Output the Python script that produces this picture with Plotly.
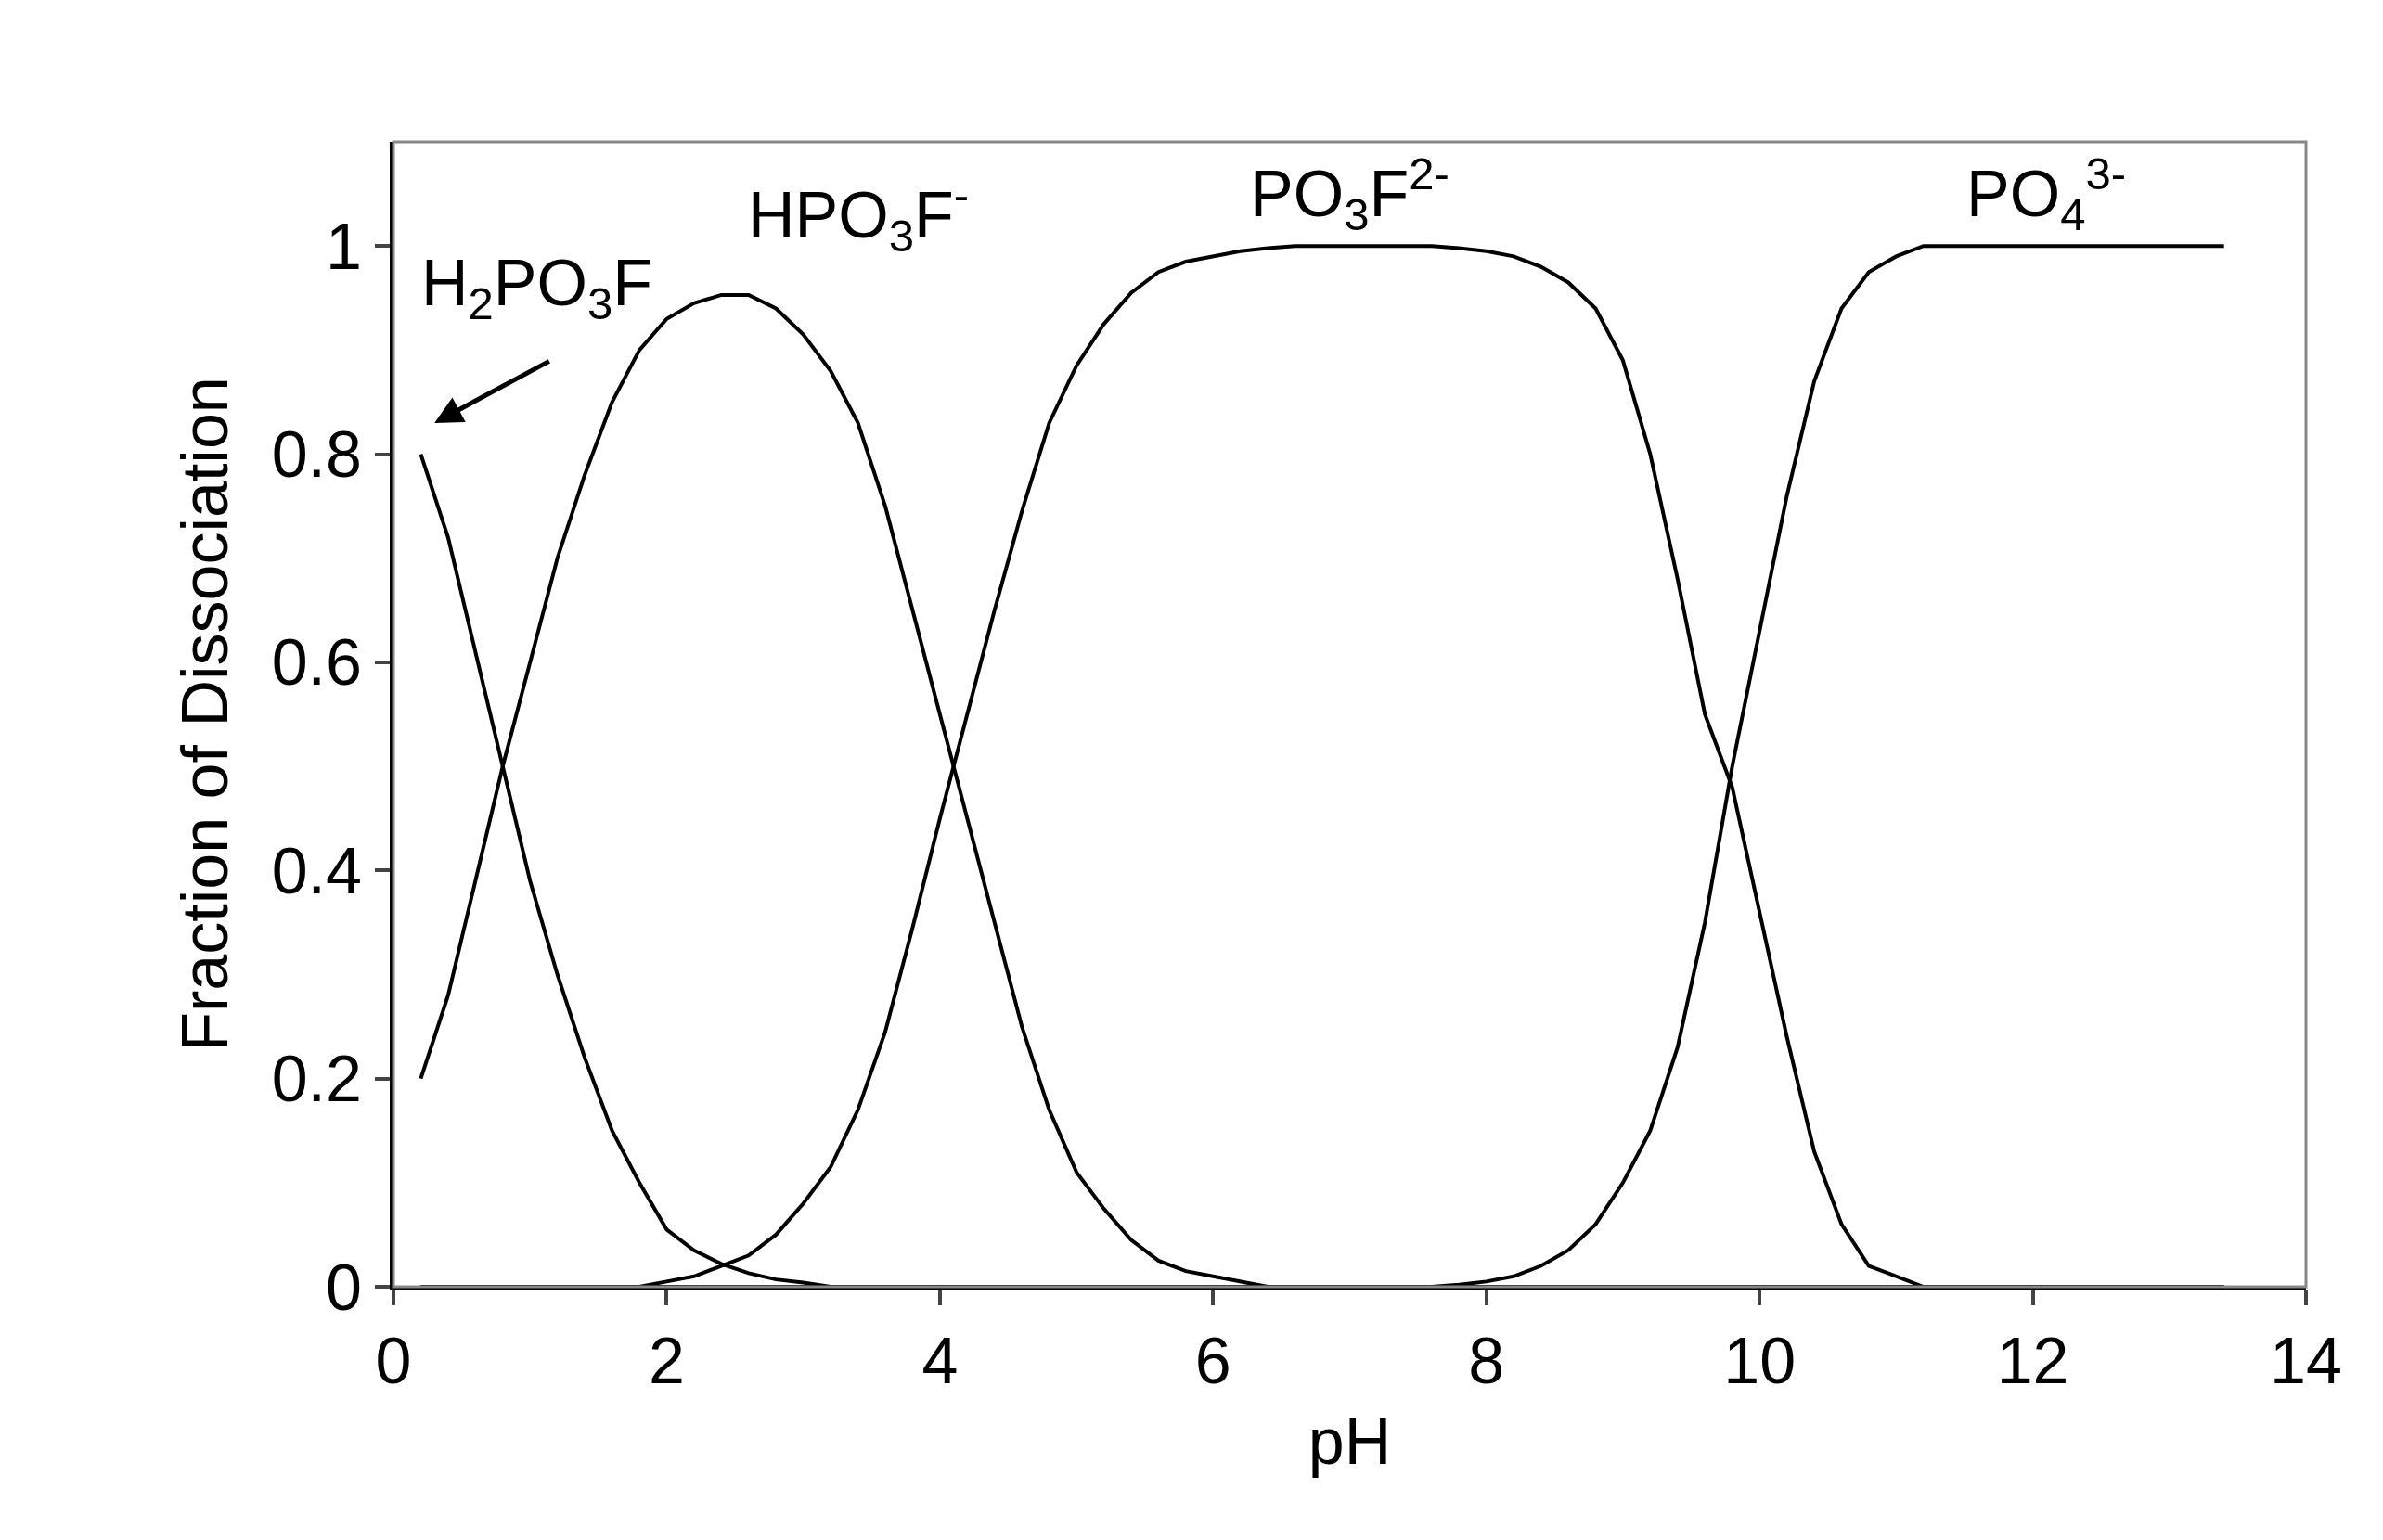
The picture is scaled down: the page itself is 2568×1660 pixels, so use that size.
import plotly.graph_objects as go

ph = [round(0.2*i,1) for i in range(1,68)]  # 0.2 .. 13.4
def fill(d):
    return [d.get(p, 0.0) for p in ph]

h2 = {0.2:0.8,0.4:0.72,0.6:0.61,0.8:0.5,1.0:0.39,1.2:0.30,1.4:0.22,1.6:0.15,1.8:0.10,2.0:0.055,2.2:0.035,2.4:0.022,2.6:0.013,2.8:0.007,3.0:0.004}
h1 = {0.2:0.2,0.4:0.28,0.6:0.39,0.8:0.5,1.0:0.6,1.2:0.70,1.4:0.78,1.6:0.85,1.8:0.90,2.0:0.93,2.2:0.945,2.4:0.953,2.6:0.953,2.8:0.94,3.0:0.915,3.2:0.88,3.4:0.83,3.6:0.75,3.8:0.65,4.0:0.55,4.2:0.45,4.4:0.35,4.6:0.25,4.8:0.17,5.0:0.11,5.2:0.075,5.4:0.045,5.6:0.025,5.8:0.015,6.0:0.01,6.2:0.005}
h0 = {2.0:0.005,2.2:0.01,2.4:0.02,2.6:0.03,2.8:0.05,3.0:0.08,3.2:0.115,3.4:0.17,3.6:0.245,3.8:0.345,4.0:0.45,4.2:0.55,4.4:0.65,4.6:0.745,4.8:0.83,5.0:0.885,5.2:0.925,5.4:0.955,5.6:0.975,5.8:0.985,6.0:0.99,6.2:0.995,6.4:0.998,6.6:1,6.8:1,7.0:1,7.2:1,7.4:1,7.6:1,7.8:0.998,8.0:0.995,8.2:0.99,8.4:0.98,8.6:0.965,8.8:0.94,9.0:0.89,9.2:0.8,9.4:0.68,9.6:0.55,9.8:0.48,10.0:0.36,10.2:0.24,10.4:0.13,10.6:0.06,10.8:0.02,11.0:0.01}
p4 = {7.8:0.002,8.0:0.005,8.2:0.01,8.4:0.02,8.6:0.035,8.8:0.06,9.0:0.1,9.2:0.15,9.4:0.23,9.6:0.35,9.8:0.5,10.0:0.63,10.2:0.76,10.4:0.87,10.6:0.94,10.8:0.975,11.0:0.99}
for p in ph:
    if p >= 11.2: p4[p] = 1.0

series = [fill(h2), fill(h1), fill(h0), fill(p4)]

fig = go.Figure()
for s in series:
    fig.add_trace(go.Scatter(x=ph, y=s, mode="lines", line=dict(color="black", width=4), showlegend=False))

F = dict(family="Liberation Sans, Arial", size=70, color="black")
labels = [(1.05, 0.96, "H<sub>2</sub>PO<sub>3</sub>F"), (3.4, 1.03, "HPO<sub>3</sub>F<sup>-</sup>"),
          (7.0, 1.05, "PO<sub>3</sub>F<sup>2-</sup>"), (12.1, 1.05, "PO<sub>4</sub><sup>3-</sup>")]
for x, y, t in labels:
    fig.add_annotation(x=x, y=y, text=t, showarrow=False, font=F)
fig.add_annotation(x=0.3, y=0.83, ax=1.15, ay=0.89, axref="x", ayref="y", text="",
                   showarrow=True, arrowhead=2, arrowsize=1.2, arrowwidth=5, arrowcolor="black")

fig.update_layout(
    width=2568, height=1660, plot_bgcolor="white", paper_bgcolor="white",
    margin=dict(l=416, r=91, t=145, b=281), font=F,
    xaxis=dict(range=[0,14], dtick=2, ticks="outside", ticklen=16, tickwidth=4, showgrid=False,
               zeroline=False, showline=True, linecolor="black", linewidth=4, mirror=False,
               title=dict(text="pH", font=F, standoff=25)),
    yaxis=dict(range=[0,1.1], tickvals=[0,0.2,0.4,0.6,0.8,1], ticktext=["0","0.2","0.4","0.6","0.8","1"],
               ticks="outside", ticklen=16, tickwidth=4, showgrid=False, zeroline=False,
               showline=True, linecolor="black", linewidth=4,
               title=dict(text="Fraction of Dissociation", font=F, standoff=25)),
)
fig.add_shape(type="rect", xref="paper", yref="paper", x0=0, y0=0, x1=1, y1=1,
              line=dict(color="#888888", width=3))
fig.write_html("out.html")
